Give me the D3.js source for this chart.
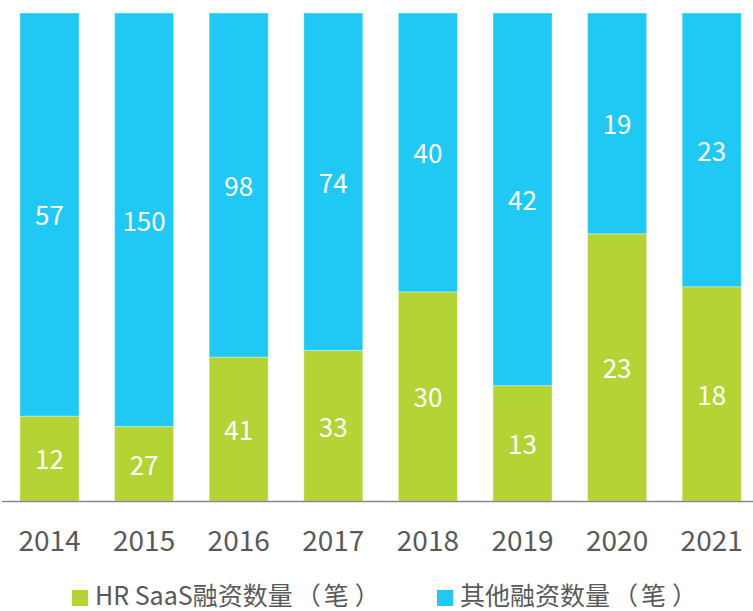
<!DOCTYPE html>
<html>
<head>
<meta charset="utf-8">
<script src="https://cdn.jsdelivr.net/npm/d3@7"></script>
<style>
  html, body { margin: 0; padding: 0; background: #fff; }
  svg { display: block; font-family: "Noto Sans CJK SC", "Noto Sans", sans-serif; }
</style>
</head>
<body>
<svg id="chart" width="753" height="611"></svg>
<script>
// Financing deal counts per year
const years = ["2014", "2015", "2016", "2017", "2018", "2019", "2020", "2021"];
const hrSaas = [12, 27, 41, 33, 30, 13, 23, 18];
const others = [57, 150, 98, 74, 40, 42, 19, 23];
const seriesNames = ["HR SaaS融资数量", "其他融资数量"];
const unitLabel = ["（", "笔", "）"];
const seriesColors = ["#B4D334", "#20C9F3"];

const svg = d3.select("#chart");
const W = 753;
const plotTop = 13, baseline = 501;

const x = d3.scaleBand()
  .domain(years)
  .range([2.2, 759])
  .paddingInner(0.376)
  .paddingOuter(0.188);

const y = d3.scaleLinear().domain([0, 1]).range([baseline, plotTop]);

// stacked shares (100% stacked)
const rows = years.map((yr, i) => ({ year: yr, hr: hrSaas[i], other: others[i] }));
const stack = d3.stack().keys(["hr", "other"]).offset(d3.stackOffsetExpand);
const layers = stack(rows);

const g = svg.append("g");
layers.forEach((layer, li) => {
  const vals = li === 0 ? hrSaas : others;
  const lg = g.append("g");
  lg.selectAll("rect")
    .data(layer)
    .join("rect")
    .attr("x", d => x(d.data.year))
    .attr("width", x.bandwidth())
    .attr("y", d => y(d[1]))
    .attr("height", d => y(d[0]) - y(d[1]))
    .attr("fill", seriesColors[li])
    .attr("stroke", "rgba(255,255,255,0.35)")
    .attr("stroke-width", 1);
  lg.selectAll("text")
    .data(layer)
    .join("text")
    .attr("x", d => x(d.data.year) + x.bandwidth() / 2)
    .attr("y", d => (y(d[0]) + y(d[1])) / 2)
    .attr("dy", "0.42em")
    .attr("text-anchor", "middle")
    .attr("fill", "#fff")
    .attr("font-size", 26)
    .text((d, i) => vals[i]);
});

// category axis
const axis = d3.axisBottom(x).tickSize(0).tickPadding(0);
const ax = svg.append("g").attr("transform", `translate(0,${baseline})`).call(axis);
ax.select(".domain").remove();
ax.selectAll("text")
  .attr("y", 50)
  .attr("dy", 0)
  .attr("font-size", 28)
  .attr("fill", "#595959")
  .attr("font-family", "'Noto Sans CJK SC', 'Noto Sans', sans-serif");
svg.append("line")
  .attr("x1", 2).attr("x2", W)
  .attr("y1", baseline + 0.5).attr("y2", baseline + 0.5)
  .attr("stroke", "#898989").attr("stroke-width", 1.5);

// legend: small gaps around the unit so the brackets read "（ 笔 ）"
const legendX = [72, 437];
const lgd = svg.append("g");
seriesNames.forEach((name, i) => {
  lgd.append("rect")
    .attr("x", legendX[i]).attr("y", 590)
    .attr("width", 16).attr("height", 16)
    .attr("fill", seriesColors[i]);
  const t = lgd.append("text")
    .attr("x", legendX[i] + 23).attr("y", 596)
    .attr("dy", "0.36em")
    .attr("font-size", 25)
    .attr("fill", "#595959");
  t.append("tspan").text(name);
  t.append("tspan").attr("dx", 3).text(unitLabel[0]);
  t.append("tspan").attr("dx", 3).text(unitLabel[1]);
  t.append("tspan").attr("dx", 6).text(unitLabel[2]);
});
</script>
</body>
</html>
